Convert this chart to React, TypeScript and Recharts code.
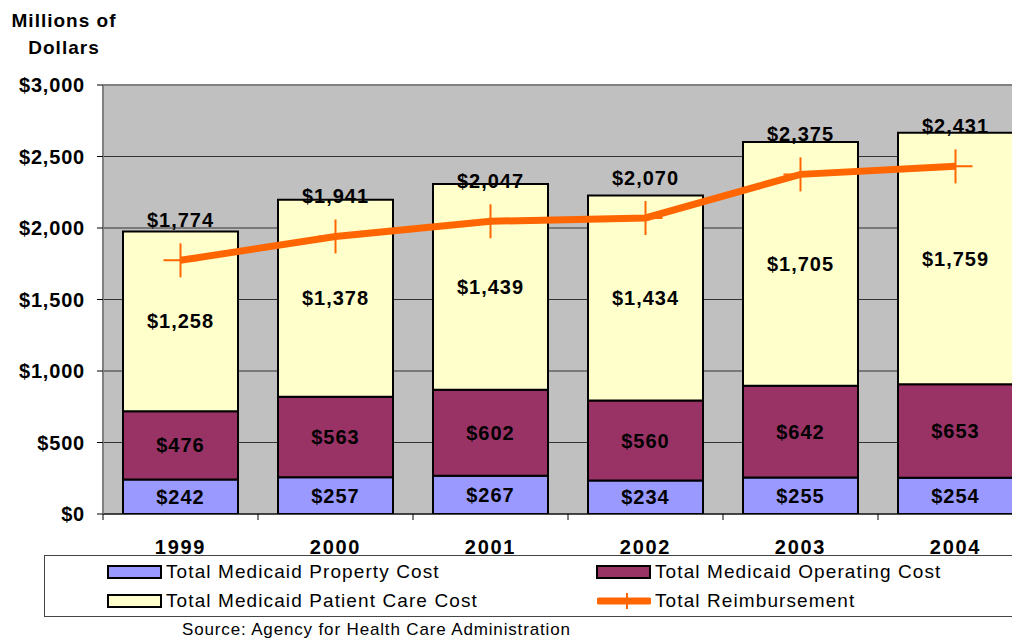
import {
  ComposedChart,
  Bar,
  Line,
  XAxis,
  YAxis,
  CartesianGrid,
  ReferenceLine,
  LabelList,
} from "recharts";

const years = ["1999", "2000", "2001", "2002", "2003", "2004"];
const propertyCost = [242, 257, 267, 234, 255, 254];
const operatingCost = [476, 563, 602, 560, 642, 653];
const patientCareCost = [1258, 1378, 1439, 1434, 1705, 1759];
const totalReimbursement = [1774, 1941, 2047, 2070, 2375, 2431];
const yTicks = [0, 500, 1000, 1500, 2000, 2500, 3000];

const chartData = years.map((year, i) => ({
  year,
  property: propertyCost[i],
  operating: operatingCost[i],
  patient: patientCareCost[i],
  total: totalReimbursement[i],
}));

const FONT = '"Liberation Sans", Arial, sans-serif';
const ORANGE = "#FF6600";
const PLOT_W = 930;
const BAND = PLOT_W / years.length;

const money = (v: number) => "$" + Number(v).toLocaleString("en-US");

function YearTick({ x, y, payload, index }: any) {
  return (
    <g>
      <line x1={x - BAND / 2} y1={y} x2={x - BAND / 2} y2={y + 6} stroke="#000" />
      {index === years.length - 1 && (
        <line x1={x + BAND / 2} y1={y} x2={x + BAND / 2} y2={y + 6} stroke="#000" />
      )}
      <text
        x={x}
        y={y + 40}
        textAnchor="middle"
        fontFamily={FONT}
        fontWeight="bold"
        fontSize={20}
        letterSpacing={1.7}
        fill="#000"
      >
        {payload.value}
      </text>
    </g>
  );
}

function CrossDot({ cx, cy }: any) {
  if (cx == null || cy == null) return null;
  return (
    <g>
      <line x1={cx - 17} y1={cy} x2={cx + 17} y2={cy} stroke={ORANGE} strokeWidth={2} />
      <line x1={cx} y1={cy - 17} x2={cx} y2={cy + 17} stroke={ORANGE} strokeWidth={2} />
    </g>
  );
}

function TotalLabel({ x, y, value }: any) {
  return (
    <text
      x={x}
      y={y - 33}
      textAnchor="middle"
      fontFamily={FONT}
      fontWeight="bold"
      fontSize={20}
      letterSpacing={1}
      fill="#000"
    >
      {money(value)}
    </text>
  );
}

const segLabel = {
  position: "center" as const,
  formatter: (v: any) => money(v),
  fill: "#000",
  fontFamily: FONT,
  fontWeight: "bold",
  fontSize: 20,
  letterSpacing: 1,
};

function Swatch({ color }: { color: string }) {
  return (
    <div
      style={{
        width: 51,
        height: 10,
        background: color,
        border: "2px solid #000",
      }}
    />
  );
}

function LineSwatch() {
  return (
    <svg width={54} height={18}>
      <line x1={2} y1={9} x2={52} y2={9} stroke={ORANGE} strokeWidth={7} strokeLinecap="round" />
      <line x1={30} y1={1} x2={30} y2={17} stroke={ORANGE} strokeWidth={2} />
    </svg>
  );
}

function LegendItem({ left, top, icon, label }: any) {
  return (
    <div
      style={{
        position: "absolute",
        left,
        top,
        height: 18,
        display: "flex",
        alignItems: "center",
        whiteSpace: "nowrap",
      }}
    >
      <div style={{ width: 55, display: "flex", justifyContent: "center" }}>{icon}</div>
      <span style={{ marginLeft: 4, fontSize: 19, letterSpacing: 1.1, fontFamily: FONT, color: "#000" }}>
        {label}
      </span>
    </div>
  );
}

export default function App() {
  return (
    <div
      style={{
        position: "relative",
        width: 1012,
        height: 631,
        overflow: "hidden",
        fontFamily: FONT,
      }}
    >
      <div
        style={{
          position: "absolute",
          left: 0,
          top: -1,
          width: 112,
          textAlign: "center",
          fontWeight: "bold",
          fontSize: 19,
          letterSpacing: 1,
          lineHeight: "27px",
        }}
      >
        Millions of
        <br />
        Dollars
      </div>

      <ComposedChart
        width={1060}
        height={631}
        data={chartData}
        margin={{ top: 77, right: 35, left: 0, bottom: 85 }}
        barSize={115}
      >
        <CartesianGrid
          vertical={false}
          stroke="#333"
          fill="#C0C0C0"
          fillOpacity={1}
        />
        <XAxis
          dataKey="year"
          height={40}
          tickLine={false}
          tickSize={0}
          tickMargin={0}
          axisLine={{ stroke: "#000", strokeWidth: 1 }}
          tick={<YearTick />}
          interval={0}
        />
        <YAxis
          width={95}
          domain={[0, 3000]}
          ticks={yTicks}
          tickFormatter={money}
          tickSize={6}
          tickMargin={12}
          tickLine={{ stroke: "#000" }}
          axisLine={{ stroke: "#808080", strokeWidth: 2 }}
          tick={{ fill: "#000", fontFamily: FONT, fontWeight: "bold", fontSize: 20, letterSpacing: 0.8 }}
          allowDataOverflow
        />
        <ReferenceLine y={3000} stroke="#808080" strokeWidth={2} />
        <Bar dataKey="property" stackId="a" fill="#9999FF" stroke="#000" strokeWidth={2} isAnimationActive={false}>
          <LabelList dataKey="property" {...segLabel} />
        </Bar>
        <Bar dataKey="operating" stackId="a" fill="#993366" stroke="#000" strokeWidth={2} isAnimationActive={false}>
          <LabelList dataKey="operating" {...segLabel} />
        </Bar>
        <Bar dataKey="patient" stackId="a" fill="#FFFFCC" stroke="#000" strokeWidth={2} isAnimationActive={false}>
          <LabelList dataKey="patient" {...segLabel} />
        </Bar>
        <Line
          dataKey="total"
          type="linear"
          stroke={ORANGE}
          strokeWidth={7}
          dot={<CrossDot />}
          activeDot={false}
          isAnimationActive={false}
        >
          <LabelList dataKey="total" content={<TotalLabel />} />
        </Line>
      </ComposedChart>

      <div
        style={{
          position: "absolute",
          left: 36,
          top: 547,
          width: 1000,
          height: 60,
          background: "#fff",
          border: "1px solid #444",
        }}
      >
        <LegendItem left={62} top={7} icon={<Swatch color="#9999FF" />} label="Total Medicaid Property Cost" />
        <LegendItem left={551} top={7} icon={<Swatch color="#993366" />} label="Total Medicaid Operating Cost" />
        <LegendItem left={62} top={36} icon={<Swatch color="#FFFFCC" />} label="Total Medicaid Patient Care Cost" />
        <LegendItem left={551} top={36} icon={<LineSwatch />} label="Total Reimbursement" />
      </div>

      <div
        style={{
          position: "absolute",
          left: 174,
          top: 612,
          fontSize: 17,
          letterSpacing: 0.85,
          lineHeight: "20px",
          whiteSpace: "nowrap",
        }}
      >
        Source: Agency for Health Care Administration
      </div>
    </div>
  );
}
